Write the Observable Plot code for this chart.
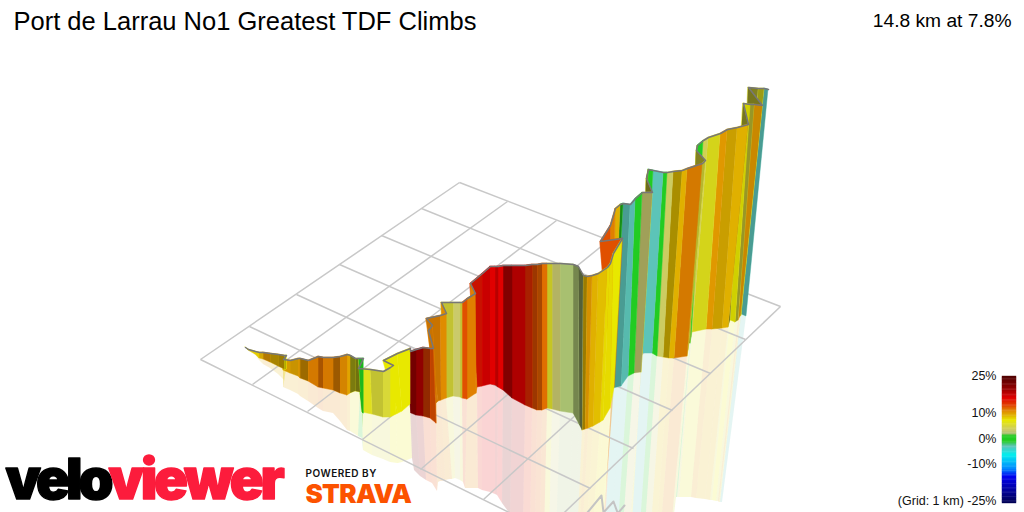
<!DOCTYPE html>
<html>
<head>
<meta charset="utf-8">
<style>html,body{margin:0;padding:0;background:#fff;overflow:hidden}</style>
<script src="https://cdn.jsdelivr.net/npm/d3@7"></script>
<script src="https://cdn.jsdelivr.net/npm/@observablehq/plot@0.6"></script>
</head>
<body>
<div id="chart"></div>
<script>
const titleText = "Port de Larrau No1 Greatest TDF Climbs";
const statText = "14.8 km at 7.8%";

// floor grid (picture coordinates of the grid's line ends)
const gridFrom = [[200,359],[249,326],[296,294],[339,264],[381,235],[421,208],[459,182],
                  [200,359],[252,384],[307,411],[362,439],[420,469],[483,499],[545,530]];
const gridTo   = [[545,530],[590,488],[633,448],[672,410],[710,373],[745,339],[780,306],
                  [459,182],[507,201],[556,220],[608,240],[662,261],[719,283],[780,306]];
const northArrow = [[587,512],[601,495],[603,512],[613,501],[617,512]];
const northArrow2 = [[618,512],[624,505]];

// route wall, one entry per station along the climb
const topEdge = [[245,347],[248,349],[255,351],[259,352],[263,352],[270,353],[278,354],[284,355],[286,355],[283,359],
[290,360],[298,358],[300,358],[308,360],[318,356],[323,357],[333,357],[340,356],[347,354],[350,355],
[355,358],[358,358],[363,358],[358,368],[370,369],[383,371],[390,367],[393,365],[383,360],[397,353],
[410,348],[410,351],[416,349],[423,347],[430,348],[433,348],[428,330],[432,325],[426,318],[440,315],
[446,313],[441,302],[453,302],[460,302],[462,302],[467,298],[475,293],[470,283],[482,273],[490,266],
[495,266],[498,266],[503,265],[512,265],[525,265],[532,264],[537,264],[542,263],[547,263],[552,263],
[560,263],[573,264],[578,266],[583,275],[587,276],[592,275],[598,273],[607,267],[610,263],[613,253],
[622,238],[600,241],[610,225],[615,208],[620,204],[623,203],[630,204],[635,198],[642,192],[652,192],
[646,178],[648,169],[653,170],[663,172],[667,172],[673,171],[682,170],[687,168],[702,163],[705,160],
[696,150],[697,145],[703,140],[708,137],[720,133],[727,129],[737,127],[748,124],[743,103],[750,104],
[754,104],[762,105],[748,87],[758,88],[764,88],[768,89]];
const baseEdge = [[245,347],[248,350],[255,354],[259,358],[263,359],[270,362],[278,366],[284,369],[286,369],[283,370],
[290,373],[298,376],[300,378],[308,381],[318,387],[323,388],[333,390],[340,393],[347,395],[350,393],
[355,391],[360,392],[363,413],[362,412],[372,414],[383,417],[390,417],[396,414],[398,413],[402,411],
[410,404],[411,413],[416,415],[423,416],[430,418],[436,423],[436,403],[437,402],[438,401],[441,400],
[446,398],[446,398],[453,396],[460,397],[462,398],[467,399],[476,393],[477,387],[482,386],[490,384],
[495,385],[498,387],[503,390],[512,398],[525,405],[532,408],[537,410],[542,410],[547,408],[552,409],
[560,411],[573,413],[579,424],[582,430],[585,429],[588,428],[593,426],[600,422],[603,420],[610,408],
[614,387],[612,388],[613,388],[613,388],[613,388],[613,388],[621,386],[628,376],[634,373],[641,372],
[642,353],[642,353],[642,353],[652,353],[657,356],[663,357],[669,358],[674,358],[687,356],[688,350],
[689,343],[690,343],[691,337],[692,332],[706,329],[712,329],[722,328],[728,327],[730,320],[735,322],
[738,320],[740,316],[740,316],[741,315],[741,314],[746,316]];
const footEdge = [[245,347],[248,350],[255,355],[259,360],[263,364],[270,368],[278,374],[284,380],[284,382],[283,387],
[290,390],[298,394],[300,396],[308,401],[318,408],[323,411],[333,413],[340,421],[347,430],[350,431],
[355,434],[358,436],[362,438],[363,450],[372,455],[383,459],[390,462],[397,463],[398,463],[402,462],
[412,458],[414,470],[420,476],[426,480],[432,483],[437,491],[438,482],[440,481],[442,481],[445,480],
[450,479],[452,479],[455,478],[460,480],[463,482],[465,488],[477,488],[478,488],[482,490],[490,492],
[495,494],[497,495],[502,503],[510,514],[523,525],[530,530],[535,533],[540,535],[544,537],[549,538],
[556,540],[568,540],[574,540],[577,540],[579,540],[582,540],[586,540],[592,540],[595,540],[601,540],
[602,540],[603,540],[603,540],[604,540],[604,540],[604,540],[611,540],[617,540],[622,540],[629,540],
[630,540],[631,540],[631,540],[639,540],[644,540],[650,540],[656,540],[660,540],[670,540],[671,540],
[671,540],[676,497],[677,497],[679,497],[691,497],[696,498],[705,499],[710,500],[712,500],[716,501],
[718,501],[719,502],[719,502],[720,502],[720,502],[722,502]];
const grade = [7,8,8,9,10,9,9,7,7,9.5, 9.5,10,10,11,11.5,11,11,10.5,9.5,6,
6,0,0,6,5,5,7,7,7,7, 22,22,20,13,12.5,11,11,11,11,10.5,
10.5,5,3.2,5,12.5,11,11,15,16,16, 18,16,21,18.5,14,12.5,12,11.5,5.5,3,
2,2,2,9,10,9,8.5,7.5,7.5,7, 12.5,12.5,11,9,1,-3,-3,0,3,5,
5,0,-3,0,3.5,8.5,9,11,5,5, 5,0,4,6,10,9,9,5,7,5,
10,5,5,6,-3,-3];
const shade = [.1,0,0,.05,.2,.25,.3,.25,.25,.05, .1,.05,.3,.05,.25,.05,.3,.05,0,.45,
.5,.1,.35,0,.1,0,0,0,0,0, 0,0,0,.35,.15,.1,.1,.1,.1,0,
0,.1,0,.1,0,0,0,.1,.1,0, 0,0,0,0,.25,.3,.25,0,.1,.1,
0,.3,.5,.3,.05,0,0,0,0,0, 0,0,0,0,.3,.2,.05,0,.2,.5,
.5,0,0,0,0,.25,0,.05,.15,.4, .4,0,0,.05,0,.1,0,.45,.1,.3,
.1,.45,.4,.3,.2,.2];

// colour key
const gradeStops = [-25,-15,-12,-6.5,-3,-1,1,2,3,7,9,11,13,16,20,25];
const gradeColors = ["#000055","#0000ee","#0088ff","#00eeee","#5cc4b8","#22cc22","#22cc22","#a8c070","#c8c870","#e8e800","#e0b000","#e08000","#e04000","#e00000","#900000","#4a0000"];
const keyTicks = [25,10,0,-10,-25];
const keyLabels = ["25%","10%","0%","-10%","(Grid: 1 km) -25%"];

const keyY = d3.scaleLinear().domain(keyTicks).range([376,413,439,464,503]);
const keySteps = d3.range(-25,25,0.5);

const band = i => [i,i+1].map(j => ({
  tx: topEdge[j][0], ty: topEdge[j][1], bx: baseEdge[j][0], by: baseEdge[j][1],
  fx: footEdge[j][0], fy: footEdge[j][1], g: grade[i]
}));
const indices = d3.range(topEdge.length-1);

const reflection = indices.map(i => Plot.area(band(i), {x1:"bx",y1:"by",x2:"fx",y2:"fy",fill:"g",fillOpacity:0.17}));
const wall = indices.slice().reverse().flatMap(i => {
  const m = [Plot.area(band(i), {x1:"tx",y1:"ty",x2:"bx",y2:"by",fill:"g",stroke:"g",strokeWidth:0.5})];
  if (shade[i] > 0) m.push(Plot.area(band(i), {x1:"tx",y1:"ty",x2:"bx",y2:"by",fill:"#000",fillOpacity:shade[i]}));
  return m;
});

const chart = Plot.plot({
  width:1024, height:512, margin:0,
  x:{domain:[0,1024],range:[0,1024],axis:null},
  y:{domain:[0,512],range:[0,512],axis:null},
  color:{type:"linear",domain:gradeStops,range:gradeColors,interpolate:"rgb"},
  style:{background:"#fff"},
  marks:[
    ...reflection,
    Plot.link(gridFrom.map((d,i)=>({a:d,b:gridTo[i]})),{x1:d=>d.a[0],y1:d=>d.a[1],x2:d=>d.b[0],y2:d=>d.b[1],stroke:"#c8c8c8",strokeWidth:1.5}),
    Plot.line(northArrow,{x:d=>d[0],y:d=>d[1],stroke:"#c4c4c4",strokeWidth:2}),
    Plot.line(northArrow2,{x:d=>d[0],y:d=>d[1],stroke:"#c4c4c4",strokeWidth:2}),
    ...wall,
    Plot.line(topEdge,{x:d=>d[0],y:d=>d[1],stroke:"#777",strokeWidth:1.5}),
    Plot.rect(keySteps,{x1:()=>1002,x2:()=>1016,y1:g=>keyY(g+0.5),y2:g=>keyY(g),fill:g=>g,inset:-0.2}),
    Plot.text(keyTicks,{x:()=>996,y:g=>keyY(g)-(g===-25?3:1),text:(g,i)=>keyLabels[i],textAnchor:"end",fontSize:12.5,fontFamily:"Liberation Sans",fill:"#111"}),
    Plot.text([titleText],{x:()=>13,y:()=>21,text:d=>d,textAnchor:"start",fontSize:25.5,fontFamily:"Liberation Sans",fill:"#000"}),
    Plot.text([statText],{x:()=>1011,y:()=>20,text:d=>d,textAnchor:"end",fontSize:19.2,fontFamily:"Liberation Sans",fill:"#000"}),
    Plot.text(["velo"],{x:()=>5,y:()=>498,text:d=>d,textAnchor:"start",lineAnchor:"bottom",fontSize:56,fontWeight:900,fontFamily:"Inter",fill:"#000",stroke:"#000",strokeWidth:1.5,className:"logo"}),
    Plot.text(["viewer"],{x:()=>108,y:()=>498,text:d=>d,textAnchor:"start",lineAnchor:"bottom",fontSize:56,fontWeight:900,fontFamily:"Inter",fill:"#fc1c3c",stroke:"#fc1c3c",strokeWidth:1.5,className:"logo2"}),
    Plot.text(["POWERED BY"],{x:()=>305,y:()=>473,text:d=>d,textAnchor:"start",fontSize:10,fontWeight:600,fontFamily:"Inter",fill:"#111",className:"pow"}),
    Plot.text(["STRAVA"],{x:()=>305,y:()=>494,text:d=>d,textAnchor:"start",fontSize:26,fontWeight:900,fontFamily:"Inter",fill:"#fc5200",className:"strava"})
  ]
});
document.getElementById("chart").appendChild(chart);
d3.select(chart).selectAll(".logo text").style("letter-spacing","-4px");
d3.select(chart).selectAll(".logo2 text").style("letter-spacing","-3.2px");
d3.select(chart).selectAll(".pow text").style("letter-spacing","0.5px");
d3.select(chart).selectAll(".strava text").style("letter-spacing","-0.7px");
</script>
</body>
</html>
